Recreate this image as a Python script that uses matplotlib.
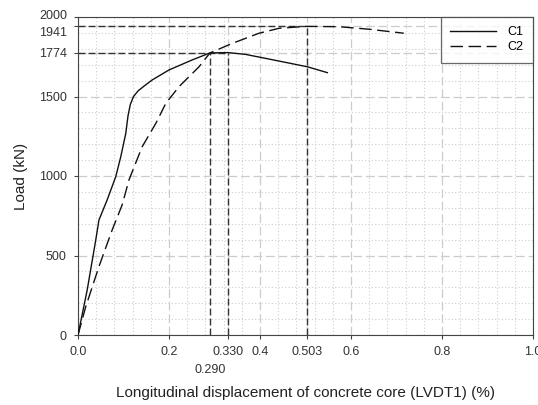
import numpy as np
import matplotlib
matplotlib.use("Agg")
import matplotlib.pyplot as plt
from matplotlib.ticker import MultipleLocator
from matplotlib.transforms import ScaledTranslation

plt.rcParams["font.family"] = ["Liberation Sans", "DejaVu Sans"]

# load-displacement curves
c1_x = [0.0, 0.020, 0.039, 0.046, 0.064, 0.083, 0.094, 0.105, 0.110, 0.115, 0.122,
        0.132, 0.145, 0.163, 0.200, 0.251, 0.290, 0.330, 0.368, 0.412, 0.504, 0.548]
c1_y = [0, 280, 597, 723, 849, 996, 1121, 1268, 1380, 1450, 1500,
        1535, 1565, 1604, 1667, 1730, 1774, 1776, 1765, 1740, 1687, 1650]
c2_x = [0.0, 0.017, 0.046, 0.075, 0.097, 0.112, 0.141, 0.171, 0.193, 0.222, 0.266,
        0.290, 0.339, 0.398, 0.442, 0.486, 0.503, 0.574, 0.640, 0.716]
c2_y = [0, 178, 430, 660, 818, 975, 1184, 1331, 1457, 1562, 1687,
        1774, 1834, 1898, 1929, 1938, 1941, 1939, 1923, 1898]

# marked points: (x, load) pairs for guide lines
peak_c1 = (0.330, 1774)
cross = (0.290, 1774)
peak_c2 = (0.503, 1941)

x_ticks = [0.0, 0.2, 0.330, 0.4, 0.503, 0.6, 0.8, 1.0]
x_labels = ["0.0", "0.2", "0.330", "0.4", "0.503", "0.6", "0.8", "1.0"]
y_ticks = [0, 500, 1000, 1500, 1774, 1941, 2000]

fig = plt.figure(figsize=(5.38, 4.05), dpi=100)
ax = fig.add_axes([78 / 538, 1 - 335 / 405, 455 / 538, 318 / 405])

ax.set_xlim(0, 1.0)
ax.set_ylim(0, 2000)
ax.xaxis.set_minor_locator(MultipleLocator(0.04))
ax.yaxis.set_minor_locator(MultipleLocator(100))
ax.grid(which="major", color="#cccccc", ls=(0, (7, 3)), lw=0.9)
ax.grid(which="minor", color="#cfcfcf", ls=(0, (1, 2)), lw=0.8)
ax.tick_params(which="minor", length=0)
ax.set_axisbelow(True)

guide = dict(color="#333333", ls=(0, (5, 2.2)), lw=1.0, zorder=2)
ax.plot([0, peak_c2[0]], [peak_c2[1]] * 2, **guide)
ax.plot([peak_c2[0]] * 2, [0, peak_c2[1]], **guide)
ax.plot([0, peak_c1[0]], [peak_c1[1]] * 2, **guide)
ax.plot([peak_c1[0]] * 2, [0, peak_c1[1]], **guide)
ax.plot([cross[0]] * 2, [0, cross[1]], **guide)

ax.plot(c1_x, c1_y, color="#111111", lw=1.0, label="C1", zorder=3)
ax.plot(c2_x, c2_y, color="#111111", lw=1.0, ls=(0, (9, 4)), label="C2", zorder=3)

ax.set_xticks(x_ticks)
ax.set_xticklabels(x_labels)
ax.set_yticks(y_ticks)
ax.tick_params(which="major", labelsize=9, labelcolor="#333333", length=3,
               color="#444444", pad=5)
# small nudges so the crowded top labels sit like the reference
ylabs = ax.get_yticklabels()
ylabs[5].set_transform(ylabs[5].get_transform() + ScaledTranslation(0, -3.5 / 72, fig.dpi_scale_trans))
ylabs[6].set_transform(ylabs[6].get_transform() + ScaledTranslation(0, 1.5 / 72, fig.dpi_scale_trans))
ax.text(cross[0], -0.09, "0.290", transform=ax.get_xaxis_transform(),
        ha="center", va="top", fontsize=9, color="#333333")

for s in ax.spines.values():
    s.set_color("#444444")

ax.set_xlabel("Longitudinal displacement of concrete core (LVDT1) (%)", fontsize=11,
              color="#222222", labelpad=20)
ax.set_ylabel("Load (kN)", fontsize=11, color="#222222", labelpad=8)

leg = ax.legend(loc="upper right", fontsize=9, frameon=True, fancybox=False,
                edgecolor="#444444", borderaxespad=0, handlelength=3.7,
                handletextpad=0.9, labelspacing=0.25, borderpad=0.75)
leg.get_frame().set_linewidth(0.9)

fig.savefig("out.png", dpi=100)
